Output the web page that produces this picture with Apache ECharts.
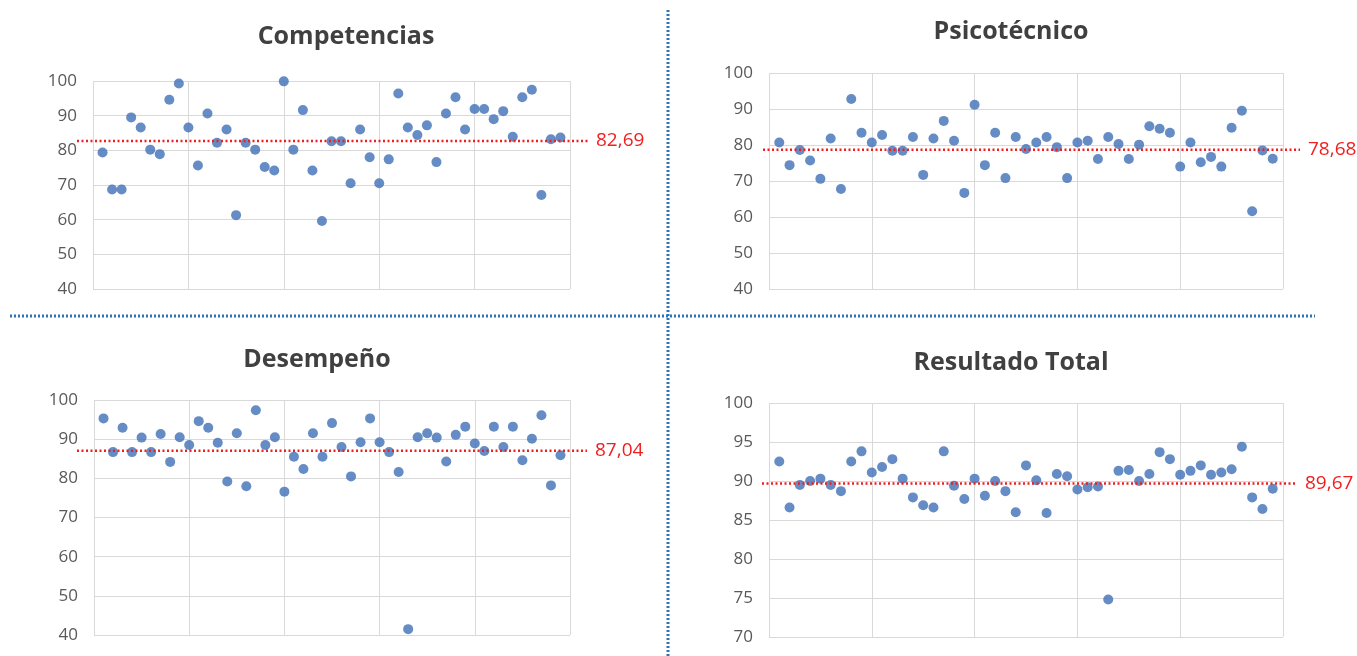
<!DOCTYPE html>
<html><head><meta charset="utf-8">
<script src="https://cdn.jsdelivr.net/npm/echarts@6/dist/echarts.min.js"></script>
<style>html,body{margin:0;padding:0;background:#fff}#c{width:1357px;height:656px}</style>
</head><body><div id="c"></div>
<script>
const titles = ['Competencias', 'Psicotécnico', 'Desempeño', 'Resultado Total'];
const competencias = [79.4,68.7,68.7,89.5,86.6,80.2,78.9,94.6,99.3,86.6,75.6,90.6,82.2,86.0,61.3,82.2,80.2,75.2,74.2,99.9,80.2,91.6,74.2,59.6,82.6,82.6,70.5,86.0,78.0,70.5,77.4,96.4,86.6,84.4,87.2,76.6,90.6,95.3,86.0,91.9,91.9,89.0,91.3,83.9,95.3,97.5,67.1,83.2,83.7];
const psicotecnico = [80.7,74.4,78.6,75.7,70.6,81.8,67.8,92.8,83.4,80.7,82.8,78.4,78.4,82.2,71.7,81.8,86.7,81.2,66.7,91.2,74.4,83.4,70.8,82.2,78.9,80.7,82.2,79.4,70.8,80.7,81.2,76.1,82.2,80.3,76.1,80.1,85.2,84.5,83.4,74.0,80.7,75.2,76.7,74.0,84.8,89.5,61.6,78.5,76.2];
const desempeno = [95.3,86.7,92.9,86.7,90.4,86.7,91.3,84.2,90.5,88.5,94.6,92.9,89.1,79.2,91.5,78.0,97.4,88.5,90.5,76.6,85.5,82.4,91.5,85.5,94.1,88.0,80.5,89.2,95.3,89.2,86.7,81.6,41.5,90.5,91.5,90.4,84.3,91.1,93.2,88.9,87.0,93.2,88.0,93.2,84.6,90.1,96.1,78.2,85.9];
const resultadoTotal = [92.5,86.6,89.5,90.0,90.3,89.5,88.7,92.5,93.8,91.1,91.8,92.8,90.3,87.9,86.9,86.6,93.8,89.4,87.7,90.3,88.1,90.0,88.7,86.0,92.0,90.1,85.9,90.9,90.6,88.9,89.2,89.3,74.8,91.3,91.4,90.0,90.9,93.7,92.8,90.8,91.3,92.0,90.8,91.1,91.5,94.4,87.9,86.4,89.0];
const means = [82.69, 78.68, 87.04, 89.67];
const yMin = [40, 40, 40, 70];
const yMax = [100, 100, 100, 100];
const yStep = [10, 10, 10, 5];
const xMin = 0, xMax = 50, xStep = 10;

const seriesData = [competencias, psicotecnico, desempeno, resultadoTotal];

const plotBoxes = [
  {left: 93, right: 787, top: 81, bottom: 367},
  {left: 769, right: 74, top: 73, bottom: 367},
  {left: 94, right: 787, top: 400, bottom: 21},
  {left: 769, right: 74, top: 403, bottom: 19}
];
const meanBoxes = [
  {left: 77, right: 769},
  {left: 763, right: 57},
  {left: 77, right: 770},
  {left: 762, right: 60}
];
const titlePos = [{x: 341, y: 19}, {x: 1006, y: 14}, {x: 312, y: 342}, {x: 1006, y: 345}];

const grid = [], xAxis = [], yAxis = [], series = [], title = [];
for (let p = 0; p < 4; p++) {
  const b = plotBoxes[p];
  grid.push({left: b.left, right: b.right, top: b.top, bottom: b.bottom, containLabel: false});
  xAxis.push({type: 'value', gridIndex: p, min: xMin, max: xMax, interval: xStep,
    axisLine: {show: false}, axisTick: {show: false}, axisLabel: {show: false},
    splitLine: {show: true, lineStyle: {color: '#d9d9d9', width: 1}}});
  yAxis.push({type: 'value', gridIndex: p, min: yMin[p], max: yMax[p], interval: yStep[p],
    axisLine: {show: false}, axisTick: {show: false},
    axisLabel: {color: '#595959', fontSize: 17, fontFamily: 'Open Sans', margin: 16},
    splitLine: {show: true, lineStyle: {color: '#d9d9d9', width: 1}}});
  series.push({type: 'scatter', xAxisIndex: p, yAxisIndex: p, symbol: 'circle', symbolSize: 10,
    itemStyle: {color: '#3F6FB6'}, z: 3,
    data: seriesData[p].map((v, i) => [i + 1, v])});
  title.push({text: titles[p], left: titlePos[p].x, top: titlePos[p].y, textAlign: 'center',
    textStyle: {color: '#404040', fontSize: 25, fontWeight: 'bold', fontFamily: 'Open Sans'}});
}
for (let p = 0; p < 4; p++) {
  const b = plotBoxes[p], m = meanBoxes[p];
  const gi = grid.length;
  grid.push({left: m.left, right: m.right, top: b.top, bottom: b.bottom});
  xAxis.push({type: 'value', gridIndex: gi, min: 0, max: 1, show: false});
  yAxis.push({type: 'value', gridIndex: gi, min: yMin[p], max: yMax[p], show: false});
  series.push({type: 'line', xAxisIndex: gi, yAxisIndex: gi, symbol: 'none', z: 4,
    lineStyle: {color: '#F01E1E', width: 2.5, type: [2, 2.5]},
    data: [[0, means[p]], [1, means[p]]],
    endLabel: {show: true, color: '#F01E1E', fontSize: 19, fontFamily: 'Open Sans', distance: 8,
      formatter: (pp) => pp.value[1].toFixed(2).replace('.', ',')}});
}

const chart = echarts.init(document.getElementById('c'));
chart.setOption({
  animation: false,
  title, grid, xAxis, yAxis, series,
  graphic: [
    {type: 'line', shape: {x1: 668, y1: 10, x2: 668, y2: 656},
      style: {stroke: '#2E75B6', lineWidth: 3, lineDash: [2, 2]}},
    {type: 'line', shape: {x1: 10, y1: 316, x2: 1315, y2: 316},
      style: {stroke: '#2E75B6', lineWidth: 3, lineDash: [2, 2]}}
  ]
});
</script></body></html>
